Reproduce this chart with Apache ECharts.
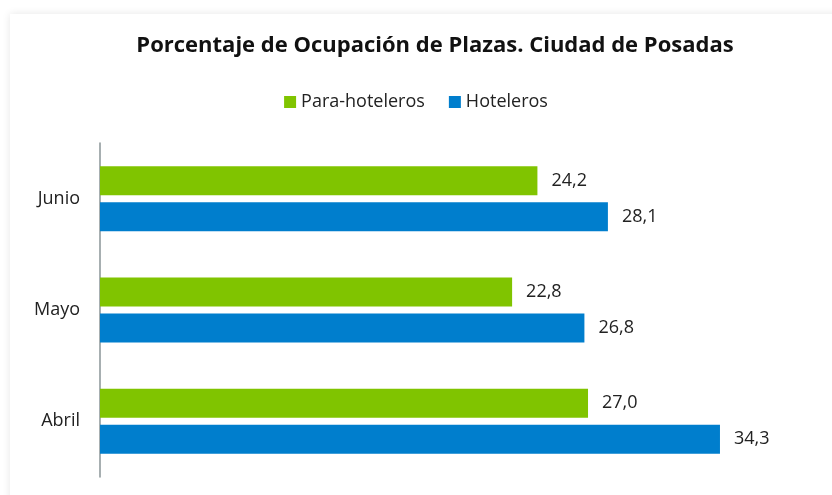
<!doctype html>
<html>
	<head>
		<meta charset="utf-8">
		<title>Ocupacion Posadas</title>
		<style>
			html, body { margin: 0; padding: 0; background: #fff; }
			#card {
				position: absolute; left: 10px; top: 14px; width: 840px; height: 500px;
				background: #fff; box-shadow: 0 0 8px rgba(0,0,0,0.10);
			}
			#main { position: absolute; left: 0; top: 0; width: 832px; height: 495px; }
		</style>
	</head>
	<body>
		<div id="card"></div>
		<div id="main"></div>
		<script src="https://cdn.jsdelivr.net/npm/echarts@6/dist/echarts.min.js"></script>
		<script>
			// datos (de abajo hacia arriba)
			var meses = ['Abril', 'Mayo', 'Junio'];
			var paraHoteleros = [27.0, 22.8, 24.2];
			var hoteleros = [34.3, 26.8, 28.1];

			var fuente = 'Open Sans';

			function etiqueta(p) {
				return p.value.toFixed(1).replace('.', ',');
			}

			var myChart = echarts.init(document.getElementById('main'));

			var option = {
				animation: false,
				title: {
					text: 'Porcentaje de Ocupación de Plazas. Ciudad de Posadas',
					left: 430,
					textAlign: 'center',
					top: 30,
					textStyle: { fontFamily: fuente, fontSize: 22, fontWeight: 'bold', color: '#111' }
				},
				legend: {
					data: ['Para-hoteleros', 'Hoteleros'],
					top: 88,
					left: 'center',
					itemWidth: 12,
					itemHeight: 12,
					itemGap: 24,
					icon: 'rect',
					textStyle: { fontFamily: fuente, fontSize: 18, color: '#222' }
				},
				grid: { left: 100, right: 9, top: 143, bottom: 18, containLabel: false },
				xAxis: {
					type: 'value',
					min: 0,
					max: 40,
					show: false
				},
				yAxis: {
					type: 'category',
					data: meses,
					axisLine: { lineStyle: { color: '#8a9497', width: 1.5 } },
					axisTick: { show: false },
					axisLabel: { fontFamily: fuente, fontSize: 18, color: '#222', margin: 20 }
				},
				series: [
					{
						name: 'Para-hoteleros',
						type: 'bar',
						data: paraHoteleros,
						barWidth: 29,
						barGap: '24%',
						itemStyle: { color: '#80c400' },
						label: { show: true, position: 'right', distance: 14, formatter: etiqueta,
							fontFamily: fuente, fontSize: 18, color: '#222' }
					},
					{
						name: 'Hoteleros',
						type: 'bar',
						data: hoteleros,
						barWidth: 29,
						barGap: '24%',
						itemStyle: { color: '#007ecd' },
						label: { show: true, position: 'right', distance: 14, formatter: etiqueta,
							fontFamily: fuente, fontSize: 18, color: '#222' }
					}
				]
			};
			myChart.setOption(option);
		</script>
	</body>
</html>
